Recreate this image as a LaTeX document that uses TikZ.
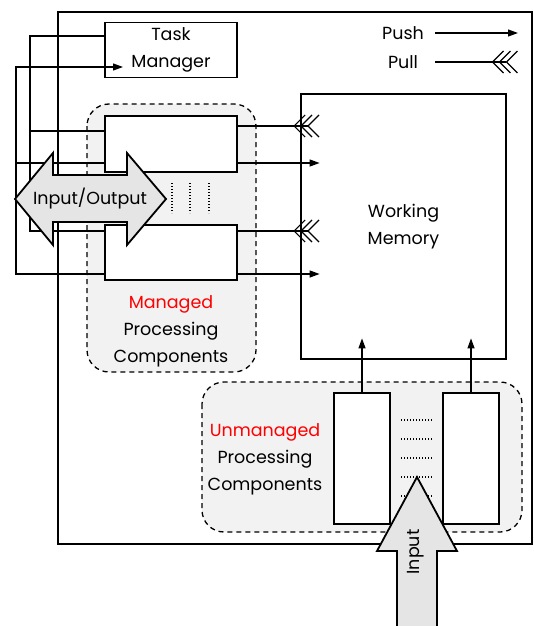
\documentclass[tikz,border=0pt]{standalone}
\usepackage{fontspec}
\setmainfont{Poppins}
\usetikzlibrary{arrows.meta}
\begin{document}
\begin{tikzpicture}[x=1pt,y=-1pt,
  box/.style={draw,line width=1.4pt,fill=white,inner sep=0pt},
  group/.style={draw,dash pattern=on 5pt off 4pt,line width=1.3pt,fill=gray!10,rounded corners=22pt},
  wire/.style={line width=1.2pt},
  push/.style={wire,-{Triangle[length=10pt,width=7pt]}},
  pull/.style={wire,-{Straight Barb[reversed,length=11pt,width=22pt,sep=-5.5pt]Straight Barb[reversed,length=11pt,width=22pt,sep=-5.5pt]Straight Barb[reversed,length=11pt,width=22pt]}},
  lbl/.style={align=center,font=\fontsize{17.5}{27}\selectfont,inner sep=0pt},
  block/.style={draw,line width=1.8pt,fill=gray!20}]
\useasboundingbox (0,0) rectangle (533,626);
% groups and frame
\draw[group] (87,104) rectangle (256,372);
\draw[group] (202,382) rectangle (522,532);
\draw[line width=2.8pt] (58,12) rectangle (532,544);
% boxes
\node[box,lbl,minimum width=132pt,minimum height=55pt] (tm) at (171,50) {Task\\Manager};
\node[box,minimum width=132pt,minimum height=56pt] (mcA) at (171,144) {};
\node[box,minimum width=132pt,minimum height=55pt] (mcB) at (171,252.5) {};
\node[box,lbl,line width=2.8pt,minimum width=205pt,minimum height=265pt] (wm) at (403.5,226.5) {Working\\Memory};
\node[box,minimum width=56pt,minimum height=131pt] (ucA) at (362,458.5) {};
\node[box,minimum width=56pt,minimum height=131pt] (ucB) at (471,458.5) {};
\node[lbl] (mlbl) at (171,331) {\textcolor{red}{Managed}\\Processing\\Components};
\node[lbl] (ulbl) at (265,459) {\textcolor{red}{Unmanaged}\\Processing\\Components};
% legend
\node[lbl] (pushlbl) at (403,33) {Push};
\node[lbl] (pulllbl) at (403,62) {Pull};
\coordinate (pushA) at (435,33); \coordinate (pushB) at (518,33);
\coordinate (pullA) at (435,62); \coordinate (pullB) at (518,62);
\draw[push] (pushA) -- (pushB);
\draw[pull] (pullA) -- (pullB);
% task manager wiring
\coordinate (tmin) at (123,67);
\draw[wire] (tm.west |- 0,36) -| (30,231) -- (mcB.west |- 0,231);
\draw[wire] (30,131) -- (mcA.west |- 0,131);
\draw[push] (mcB.west |- 0,274) -| (16,67) -- (tmin);
\draw[wire] (mcA.west |- 0,163) -- (16,163);
% to working memory
\coordinate (wmin) at ([xshift=20pt]wm.west);
\coordinate (wmbot) at ([yshift=22pt]wm.south);
\draw[pull] (mcA.east |- 0,126) -- (wmin |- 0,126);
\draw[push] (mcA.east |- 0,163) -- (wmin |- 0,163);
\draw[pull] (mcB.east |- 0,231) -- (wmin |- 0,231);
\draw[push] (mcB.east |- 0,274) -- (wmin |- 0,274);
\draw[push] (ucA.north) -- (ucA.north |- wmbot);
\draw[push] (ucB.north) -- (ucB.north |- wmbot);
% dots
\foreach \x in {172,190,209} \draw[line width=1.5pt,dash pattern=on 1.2pt off 1.8pt] (\x,183) -- (\x,213);
\foreach \y in {420,439,458,477,496} \draw[line width=1.5pt,dash pattern=on 1.2pt off 1.8pt] (401,\y) -- (432,\y);
% big arrows
\draw[block] (15,199) -- (53,153) -- (53,175) -- (127,175) -- (127,153) -- (166,199) -- (127,245) -- (127,222) -- (53,222) -- (53,245) -- cycle;
\node[lbl] (io) at (90,199) {Input/Output};
\draw[block] (417,477) -- (457,551) -- (437,551) -- (437,630) -- (397,630) -- (397,551) -- (377,551) -- cycle;
\node[lbl,rotate=90] (inp) at (416,552) {Input};
\end{tikzpicture}
\end{document}
